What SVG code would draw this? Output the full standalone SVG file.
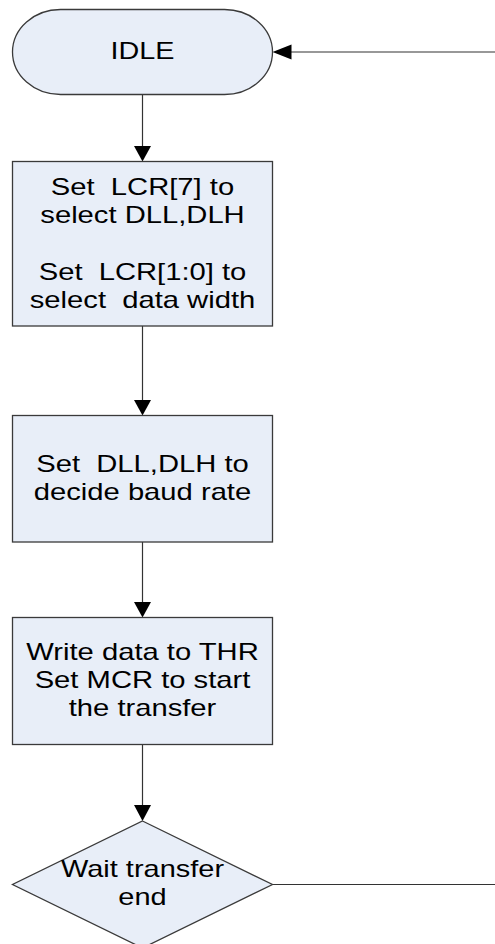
<svg xmlns="http://www.w3.org/2000/svg" width="495" height="944" viewBox="0 0 495 944">
<style>
.shape{fill:#e8eef8;stroke:#3a3a3a;stroke-width:1.3}
.conn{fill:none;stroke:#333;stroke-width:1.2}
.head{fill:#000;stroke:none}
.lbl{font-family:"Liberation Sans",Arial,sans-serif;font-size:23px;fill:#000;text-anchor:middle}
</style>
<rect x="0" y="0" width="495" height="944" fill="#fff"/>
<g id="connectors">
<line class="conn" x1="142.5" y1="94.5" x2="142.5" y2="150"/>
<polygon class="head" points="134,146 151,146 142.5,161.5"/>
<line class="conn" x1="142.5" y1="326" x2="142.5" y2="404"/>
<polygon class="head" points="134,400 151,400 142.5,415.5"/>
<line class="conn" x1="142.5" y1="542" x2="142.5" y2="606"/>
<polygon class="head" points="134,602 151,602 142.5,617.5"/>
<line class="conn" x1="142.5" y1="744.5" x2="142.5" y2="809"/>
<polygon class="head" points="134,805 151,805 142.5,821"/>
<line class="conn" x1="272.5" y1="884.5" x2="495" y2="884.5"/>
<line class="conn" x1="495" y1="52" x2="287" y2="52"/>
<polygon class="head" points="272.5,52 291.5,44.5 291.5,59.5"/>
</g>
<g id="node-idle">
<rect class="shape" x="12.5" y="9.5" width="260" height="85" rx="48" ry="42.5"/>
<text class="lbl" transform="translate(142.5 59) scale(1.25 1)">IDLE</text>
</g>
<g id="node-lcr">
<rect class="shape" x="12.5" y="161.5" width="260" height="164.5"/>
<text class="lbl" transform="translate(142.5 194.5) scale(1.27 1)" xml:space="preserve">Set  LCR[7] to</text>
<text class="lbl" transform="translate(142.5 222.5) scale(1.27 1)">select DLL,DLH</text>
<text class="lbl" transform="translate(142.5 279.5) scale(1.27 1)" xml:space="preserve">Set  LCR[1:0] to</text>
<text class="lbl" transform="translate(142.5 307.5) scale(1.27 1)" xml:space="preserve">select  data width</text>
</g>
<g id="node-dll">
<rect class="shape" x="12.5" y="415.5" width="260" height="126.5"/>
<text class="lbl" transform="translate(142.5 471.5) scale(1.27 1)" xml:space="preserve">Set  DLL,DLH to</text>
<text class="lbl" transform="translate(142.5 499.5) scale(1.27 1)">decide baud rate</text>
</g>
<g id="node-thr">
<rect class="shape" x="12.5" y="617.5" width="260" height="127"/>
<text class="lbl" transform="translate(142.5 660) scale(1.27 1)">Write data to THR</text>
<text class="lbl" transform="translate(142.5 688) scale(1.27 1)">Set MCR to start</text>
<text class="lbl" transform="translate(142.5 716) scale(1.27 1)">the transfer</text>
</g>
<g id="node-wait">
<polygon class="shape" points="142.5,821 272.5,884.5 142.5,948 12.5,884.5"/>
<text class="lbl" transform="translate(142.5 877) scale(1.26 1)">Wait transfer</text>
<text class="lbl" transform="translate(142.5 905) scale(1.26 1)">end</text>
</g>
</svg>
